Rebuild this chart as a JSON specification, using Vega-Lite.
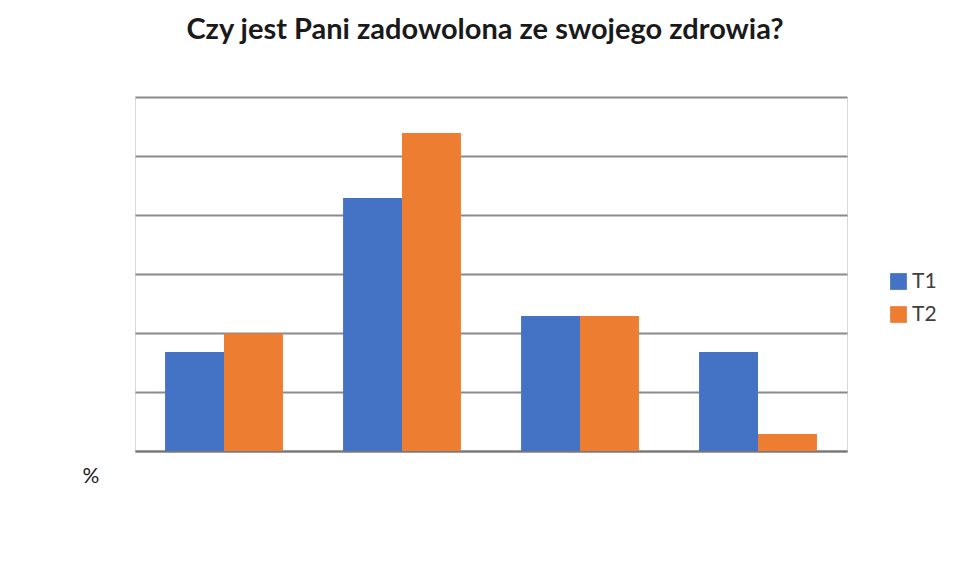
{
  "$schema": "https://vega.github.io/schema/vega-lite/v6.json",
  "width": 712,
  "height": 354,
  "autosize": {"type": "none"},
  "padding": {"left": 135, "top": 97, "right": 114, "bottom": 126},
  "background": "white",
  "title": {
    "text": "Czy jest Pani zadowolona ze swojego zdrowia?",
    "font": "Lato",
    "fontSize": 29,
    "fontWeight": "bold",
    "color": "#1a1a1a",
    "anchor": "middle",
    "dx": -6,
    "offset": 52
  },
  "data": {
    "values": [
      {"kategoria": "Tak", "seria": "T1", "procent": 16.8},
      {"kategoria": "Tak", "seria": "T2", "procent": 19.9},
      {"kategoria": "Raczej tak", "seria": "T1", "procent": 42.9},
      {"kategoria": "Raczej tak", "seria": "T2", "procent": 53.9},
      {"kategoria": "Raczej nie", "seria": "T1", "procent": 22.9},
      {"kategoria": "Raczej nie", "seria": "T2", "procent": 22.9},
      {"kategoria": "Nie", "seria": "T1", "procent": 16.8},
      {"kategoria": "Nie", "seria": "T2", "procent": 2.9}
    ]
  },
  "mark": {"type": "bar"},
  "encoding": {
    "x": {
      "field": "kategoria",
      "type": "nominal",
      "sort": ["Tak", "Raczej tak", "Raczej nie", "Nie"],
      "scale": {"paddingInner": 0, "paddingOuter": 0},
      "axis": {
        "labels": false,
        "ticks": false,
        "title": null,
        "domain": true,
        "domainColor": "#777777",
        "domainWidth": 2
      }
    },
    "xOffset": {
      "field": "seria",
      "type": "nominal",
      "scale": {"paddingInner": 0, "paddingOuter": 0.51}
    },
    "y": {
      "field": "procent",
      "type": "quantitative",
      "scale": {"domain": [0, 60], "nice": false},
      "axis": {
        "values": [0, 10, 20, 30, 40, 50, 60],
        "labels": false,
        "ticks": false,
        "domain": false,
        "grid": true,
        "gridColor": "#8a8a8a",
        "gridWidth": 2,
        "title": "%",
        "titleAngle": 0,
        "titleX": -53,
        "titleY": 379,
        "titleAlign": "left",
        "titleBaseline": "middle",
        "titleFont": "Lato",
        "titleFontSize": 21,
        "titleFontWeight": "normal",
        "titleColor": "#1a1a1a"
      }
    },
    "color": {
      "field": "seria",
      "type": "nominal",
      "scale": {"domain": ["T1", "T2"], "range": ["#4472C4", "#ED7D31"]},
      "legend": {
        "title": null,
        "orient": "none",
        "legendX": 753,
        "legendY": 174,
        "symbolType": "square",
        "symbolSize": 280,
        "symbolStrokeWidth": 0,
        "symbolOpacity": 1,
        "labelFont": "Lato",
        "labelFontSize": 21,
        "labelColor": "#404040",
        "labelOffset": 3,
        "rowPadding": 11
      }
    }
  },
  "config": {
    "view": {"stroke": "#d9d9d9", "strokeWidth": 1}
  }
}
